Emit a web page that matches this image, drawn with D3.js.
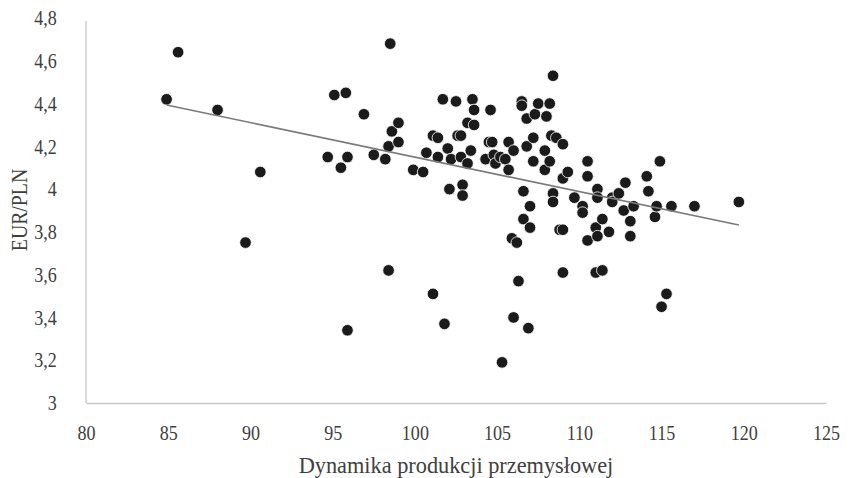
<!DOCTYPE html>
<html>
<head>
<meta charset="utf-8">
<script src="https://cdn.jsdelivr.net/npm/d3@7"></script>
<style>
  body { margin: 0; background: #fff; }
  svg text { font-family: "Liberation Serif", "Times New Roman", "DejaVu Serif", serif !important; fill: #404040; }
</style>
</head>
<body>
<svg id="chart" width="855" height="478"></svg>
<script>
// Dynamika produkcji przemyslowej (x) vs EUR/PLN (y)
const production = [
    84.9, 85.6, 88.0, 89.7, 90.6, 94.7, 95.1, 95.5, 95.8, 95.9,
    95.9, 96.9, 97.5, 98.2, 98.5, 98.4, 98.4, 98.6, 99.0, 99.0,
    99.9, 100.5, 100.7, 101.1, 101.4, 101.4, 101.1, 101.7, 101.8, 102.0,
    102.1, 102.2, 102.5, 102.6, 102.8, 102.8, 102.9, 102.9, 103.2, 103.4,
    103.2, 103.5, 103.6, 103.6, 104.3, 104.5, 104.7, 104.6, 104.8, 104.9,
    105.2, 105.5, 105.7, 105.7, 106.0, 105.3, 105.9, 106.2, 106.0, 106.3,
    106.9, 106.5, 106.5, 106.6, 106.6, 107.0, 107.0, 106.8, 106.8, 107.2,
    107.2, 107.3, 107.5, 108.0, 108.2, 107.9, 107.9, 108.2, 108.3, 108.6,
    108.4, 108.4, 108.4, 108.8, 109.0, 109.0, 109.0, 109.3, 109.0, 109.7,
    110.2, 110.2, 110.5, 110.5, 110.5, 111.0, 111.1, 111.1, 111.1, 111.0,
    111.4, 111.4, 111.8, 112.0, 112.0, 112.4, 112.7, 112.8, 113.1, 113.1,
    113.3, 114.1, 114.2, 114.6, 114.7, 114.9, 115.0, 115.3, 115.6, 117.0,
    119.7
];

const eurpln = [
    4.42, 4.64, 4.37, 3.75, 4.08, 4.15, 4.44, 4.10, 4.45, 4.15,
    3.34, 4.35, 4.16, 4.14, 4.68, 3.62, 4.20, 4.27, 4.31, 4.22,
    4.09, 4.08, 4.17, 4.25, 4.24, 4.15, 3.51, 4.42, 3.37, 4.19,
    4.00, 4.14, 4.41, 4.25, 4.25, 4.15, 4.02, 3.97, 4.12, 4.18,
    4.31, 4.42, 4.37, 4.30, 4.14, 4.22, 4.22, 4.37, 4.16, 4.12,
    4.15, 4.14, 4.09, 4.22, 4.18, 3.19, 3.77, 3.75, 3.40, 3.57,
    3.35, 4.41, 4.39, 3.99, 3.86, 3.92, 3.82, 4.33, 4.20, 4.24,
    4.13, 4.35, 4.40, 4.34, 4.40, 4.18, 4.09, 4.13, 4.25, 4.24,
    4.53, 3.98, 3.94, 3.81, 3.81, 4.21, 4.05, 4.08, 3.61, 3.96,
    3.92, 3.89, 4.13, 4.06, 3.76, 3.82, 3.78, 4.00, 3.96, 3.61,
    3.62, 3.86, 3.80, 3.96, 3.94, 3.98, 3.90, 4.03, 3.85, 3.78,
    3.92, 4.06, 3.99, 3.87, 3.92, 4.13, 3.45, 3.51, 3.92, 3.92,
    3.94
];

// linear trendline endpoints
const trendX = [84.9, 119.7];
const trendY = [4.393, 3.832];

const xTicks = [80, 85, 90, 95, 100, 105, 110, 115, 120, 125];
const yTicks = [3, 3.2, 3.4, 3.6, 3.8, 4, 4.2, 4.4, 4.6, 4.8];

const serif = "'Liberation Serif', 'Times New Roman', 'DejaVu Serif', serif";
const squeeze = "scale(0.86,1)";   // the source text is tall and narrow

const svg = d3.select("#chart");

const x = d3.scaleLinear().domain([80, 125]).range([86, 826]);
const y = d3.scaleLinear().domain([3, 4.8]).range([403, 18]);

const fmt = v => d3.format("~g")(v).replace(".", ",");

// axes (lines only, no tick marks)
const xAxis = svg.append("g")
    .attr("transform", `translate(0,${y(3)})`)
    .call(d3.axisBottom(x).tickValues(xTicks).tickSize(0).tickPadding(22).tickFormat(d => d));
const yAxis = svg.append("g")
    .attr("transform", `translate(${x(80)},0)`)
    .call(d3.axisLeft(y).tickValues(yTicks).tickSize(0).tickPadding(34).tickFormat(fmt));

[xAxis, yAxis].forEach(a => {
    a.attr("font-family", serif).attr("font-size", 21);
    a.select(".domain").attr("stroke", "#c6c6c6").attr("stroke-width", 1.3);
    a.selectAll("text").style("font-family", serif).attr("fill", "#404040")
        .attr("transform", squeeze);
});
yAxis.select(".domain").attr("d", `M0,${y(4.8) + 3}V${y(3)}`);

// points
svg.append("g").selectAll("circle")
    .data(production.map((d, i) => [d, eurpln[i]]))
    .join("circle")
    .attr("cx", d => x(d[0]))
    .attr("cy", d => y(d[1]))
    .attr("r", 5.8)
    .attr("fill", "#1b1b1b")
    .attr("stroke", "#fff")
    .attr("stroke-width", 0.8);

// trendline
svg.append("path")
    .attr("d", d3.line()(trendX.map((d, i) => [x(d), y(trendY[i])])))
    .attr("stroke", "#7a7a7a")
    .attr("stroke-width", 1.6)
    .attr("fill", "none");

// axis titles
svg.append("text")
    .attr("transform", "translate(456,473) scale(0.93,1)")
    .attr("text-anchor", "middle")
    .attr("font-size", 24)
    .style("font-family", serif)
    .text("Dynamika produkcji przemysłowej");

svg.append("text")
    .attr("transform", `translate(27,210) rotate(-90) ${squeeze}`)
    .attr("text-anchor", "middle")
    .attr("font-size", 23)
    .style("font-family", serif)
    .text("EUR/PLN");
</script>
</body>
</html>
